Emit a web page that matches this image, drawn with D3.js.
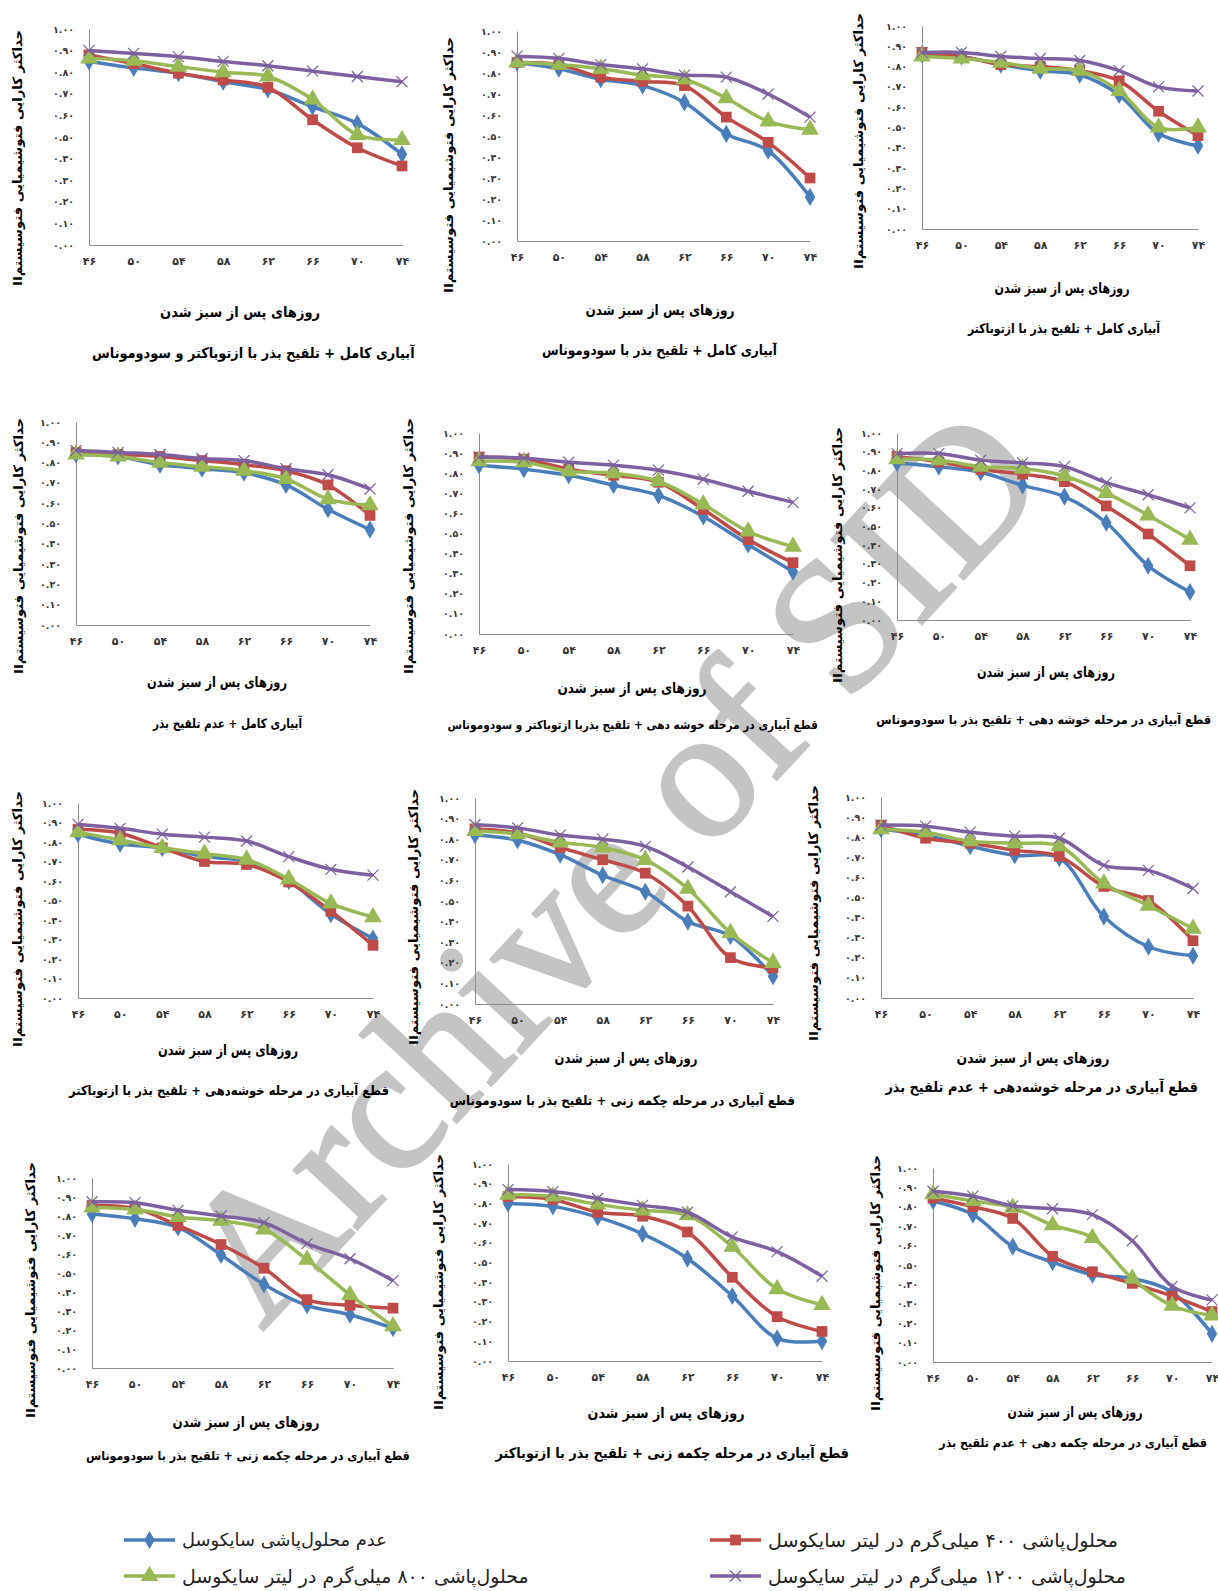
<!DOCTYPE html>
<html>
<head>
<meta charset="utf-8">
<script src="https://cdn.jsdelivr.net/npm/d3@7"></script>
<style>
  body { margin: 0; background: #fff; }
  text { font-family: "DejaVu Sans", sans-serif; }
  .fa { font-family: "DejaVu Sans Condensed", "DejaVu Sans", sans-serif; font-weight: bold; }
</style>
</head>
<body>
<div id="chart"></div>
<script>
// days after emergence (x categories)
const days = [46, 50, 54, 58, 62, 66, 70, 74];
const yTicks = [0, 0.1, 0.2, 0.3, 0.4, 0.5, 0.6, 0.7, 0.8, 0.9, 1.0];

// legend labels (series order: none, 400, 800, 1200 mg/l cycocel)
const seriesNames = [
  "عدم محلول‌پاشی سایکوسل",
  "محلول‌پاشی ۴۰۰ میلی‌گرم در لیتر سایکوسل",
  "محلول‌پاشی ۸۰۰ میلی‌گرم در لیتر سایکوسل",
  "محلول‌پاشی ۱۲۰۰ میلی‌گرم در لیتر سایکوسل"
];

// Fv/Fm values per panel, rows = series
const fullAzoPseudo = [
  [0.85, 0.82, 0.795, 0.756, 0.72, 0.64, 0.563, 0.42],
  [0.88, 0.84, 0.795, 0.764, 0.73, 0.58, 0.45, 0.366],
  [0.864, 0.853, 0.826, 0.80, 0.78, 0.674, 0.51, 0.486],
  [0.90, 0.887, 0.872, 0.85, 0.83, 0.805, 0.78, 0.756]
];
const fullPseudo = [
  [0.85, 0.82, 0.77, 0.74, 0.66, 0.51, 0.43, 0.21],
  [0.85, 0.84, 0.78, 0.76, 0.74, 0.59, 0.47, 0.30],
  [0.85, 0.84, 0.82, 0.79, 0.77, 0.68, 0.57, 0.53],
  [0.88, 0.87, 0.84, 0.82, 0.79, 0.78, 0.70, 0.59]
];
const fullAzo = [
  [0.86, 0.85, 0.81, 0.78, 0.76, 0.66, 0.47, 0.41],
  [0.87, 0.85, 0.81, 0.80, 0.78, 0.73, 0.58, 0.46],
  [0.85, 0.84, 0.82, 0.79, 0.78, 0.68, 0.50, 0.50],
  [0.87, 0.87, 0.85, 0.84, 0.83, 0.78, 0.70, 0.68]
];
const fullNone = [
  [0.84, 0.83, 0.79, 0.77, 0.75, 0.69, 0.57, 0.47],
  [0.85, 0.84, 0.83, 0.81, 0.79, 0.76, 0.69, 0.54],
  [0.84, 0.83, 0.80, 0.78, 0.76, 0.72, 0.62, 0.59],
  [0.86, 0.85, 0.84, 0.82, 0.81, 0.77, 0.74, 0.67]
];
const earAzoPseudo = [
  [0.84, 0.82, 0.79, 0.74, 0.69, 0.585, 0.445, 0.31],
  [0.88, 0.87, 0.82, 0.79, 0.755, 0.62, 0.47, 0.355],
  [0.86, 0.855, 0.81, 0.80, 0.76, 0.645, 0.51, 0.435],
  [0.88, 0.875, 0.855, 0.84, 0.815, 0.77, 0.71, 0.655]
];
const earPseudo = [
  [0.84, 0.82, 0.79, 0.72, 0.66, 0.52, 0.29, 0.15],
  [0.875, 0.845, 0.805, 0.78, 0.74, 0.61, 0.46, 0.29],
  [0.86, 0.855, 0.82, 0.81, 0.77, 0.68, 0.56, 0.43],
  [0.89, 0.89, 0.855, 0.84, 0.82, 0.735, 0.67, 0.60]
];
const earAzo = [
  [0.84, 0.79, 0.77, 0.725, 0.70, 0.60, 0.43, 0.305],
  [0.865, 0.845, 0.77, 0.70, 0.685, 0.595, 0.445, 0.27],
  [0.85, 0.81, 0.77, 0.74, 0.71, 0.61, 0.485, 0.415],
  [0.89, 0.87, 0.84, 0.825, 0.805, 0.725, 0.66, 0.63]
];
const bootPseudoA = [
  [0.82, 0.795, 0.725, 0.625, 0.545, 0.40, 0.33, 0.135],
  [0.85, 0.83, 0.76, 0.70, 0.635, 0.475, 0.225, 0.175],
  [0.84, 0.825, 0.785, 0.76, 0.70, 0.56, 0.345, 0.20],
  [0.87, 0.855, 0.82, 0.80, 0.765, 0.665, 0.545, 0.425]
];
const earNone = [
  [0.84, 0.81, 0.755, 0.71, 0.695, 0.405, 0.255, 0.21],
  [0.86, 0.795, 0.77, 0.735, 0.705, 0.555, 0.485, 0.285],
  [0.84, 0.825, 0.78, 0.77, 0.755, 0.57, 0.46, 0.345],
  [0.86, 0.855, 0.825, 0.805, 0.795, 0.66, 0.635, 0.545]
];
const bootPseudoB = [
  [0.81, 0.785, 0.74, 0.595, 0.44, 0.33, 0.28, 0.21],
  [0.855, 0.84, 0.75, 0.65, 0.525, 0.36, 0.33, 0.315],
  [0.845, 0.835, 0.795, 0.775, 0.73, 0.57, 0.385, 0.22],
  [0.875, 0.87, 0.83, 0.80, 0.765, 0.655, 0.575, 0.46]
];
const bootAzo = [
  [0.80, 0.785, 0.73, 0.645, 0.52, 0.33, 0.115, 0.10],
  [0.835, 0.82, 0.755, 0.735, 0.655, 0.425, 0.225, 0.15],
  [0.845, 0.835, 0.795, 0.765, 0.74, 0.58, 0.365, 0.285],
  [0.87, 0.86, 0.825, 0.79, 0.755, 0.63, 0.555, 0.43]
];
const bootNone = [
  [0.83, 0.76, 0.595, 0.515, 0.45, 0.43, 0.36, 0.145],
  [0.845, 0.80, 0.74, 0.545, 0.465, 0.405, 0.34, 0.26],
  [0.865, 0.83, 0.795, 0.705, 0.64, 0.43, 0.29, 0.24],
  [0.88, 0.855, 0.805, 0.79, 0.76, 0.625, 0.39, 0.32]
];

const panelTitles = [
  "آبیاری کامل + تلقیح بذر با ازتوباکتر و سودوموناس",
  "آبیاری کامل + تلقیح بذر با سودوموناس",
  "آبیاری کامل + تلقیح بذر با ازتوباکتر",
  "آبیاری کامل + عدم تلقیح بذر",
  "قطع آبیاری در مرحله خوشه دهی + تلقیح بذربا ازتوباکتر و سودوموناس",
  "قطع آبیاری در مرحله خوشه دهی + تلقیح بذر با سودوموناس",
  "قطع آبیاری در مرحله خوشه‌دهی + تلقیح بذر با ازتوباکتر",
  "قطع آبیاری در مرحله چکمه زنی + تلقیح بذر با سودوموناس",
  "قطع آبیاری در مرحله خوشه‌دهی + عدم تلقیح بذر",
  "قطع آبیاری در مرحله چکمه زنی + تلقیح بذر با سودوموناس",
  "قطع آبیاری در مرحله چکمه زنی + تلقیح بذر با ازتوباکتر",
  "قطع آبیاری در مرحله چکمه دهی + عدم تلقیح بذر"
];
const panelData = [fullAzoPseudo, fullPseudo, fullAzo, fullNone, earAzoPseudo, earPseudo,
                   earAzo, bootPseudoA, earNone, bootPseudoB, bootAzo, bootNone];
const xTitle = "روزهای پس از سبز شدن";
const yTitle = "حداکثر  کارایی فتوشیمیایی  فتوسیستمII";

// panel geometry (pixels)
const layout = [
  {x0: 89, x1: 402, top: 29, bot: 245, xlx: 240, xly: 312, xlw: 160, tr: 415, ty: 353, tw: 323, ts: 16, ytx: 17, yty: 158},
  {x0: 517, x1: 810, top: 31, bot: 241, xlx: 660, xly: 310, xlw: 149, tr: 777, ty: 350, tw: 235, ts: 16, ytx: 448, yty: 165},
  {x0: 922, x1: 1198, top: 26, bot: 229, xlx: 1062, xly: 288, xlw: 135, tr: 1160, ty: 328, tw: 192, ts: 15, ytx: 858, yty: 141},
  {x0: 76, x1: 370, top: 422, bot: 625, xlx: 217, xly: 682, xlw: 140, tr: 302, ty: 723, tw: 149, ts: 15, ytx: 18, yty: 546},
  {x0: 479, x1: 793, top: 433, bot: 634, xlx: 632, xly: 688, xlw: 149, tr: 818, ty: 725, tw: 371, ts: 13, ytx: 408, yty: 546},
  {x0: 897, x1: 1190, top: 433, bot: 620, xlx: 1046, xly: 672, xlw: 138, tr: 1211, ty: 720, tw: 335, ts: 15, ytx: 837, yty: 555},
  {x0: 78, x1: 373, top: 803, bot: 998, xlx: 228, xly: 1050, xlw: 140, tr: 389, ty: 1090, tw: 320, ts: 15, ytx: 17, yty: 919},
  {x0: 475, x1: 773, top: 798, bot: 1004, xlx: 626, xly: 1058, xlw: 143, tr: 795, ty: 1100, tw: 345, ts: 15, ytx: 413, yty: 917},
  {x0: 881, x1: 1193, top: 797, bot: 998, xlx: 1033, xly: 1058, xlw: 153, tr: 1198, ty: 1087, tw: 313, ts: 15, ytx: 813, yty: 913},
  {x0: 92, x1: 393, top: 1178, bot: 1368, xlx: 246, xly: 1422, xlw: 147, tr: 410, ty: 1456, tw: 324, ts: 13, ytx: 30, yty: 1290},
  {x0: 508, x1: 822, top: 1164, bot: 1361, xlx: 666, xly: 1413, xlw: 157, tr: 849, ty: 1453, tw: 354, ts: 15, ytx: 438, yty: 1282},
  {x0: 933, x1: 1212, top: 1168, bot: 1362, xlx: 1075, xly: 1412, xlw: 135, tr: 1207, ty: 1443, tw: 268, ts: 14, ytx: 875, yty: 1283}
];

const colors = ["#4a7ebb", "#be4b48", "#98b954", "#7d60a0"];
const symbols = [d3.symbolDiamond, d3.symbolSquare, d3.symbolTriangle, null];
const symbolSizes = [95, 115, 135, 0];

const fa = s => String(s).replace(/[0-9]/g, c => "۰۱۲۳۴۵۶۷۸۹"[+c]);

// fit a text into a target width: shrink the font a little, squeeze or stretch the rest
function fit(sel, target, size, minScale) {
  sel.style("font-size", size + "px");
  let w = sel.node().getComputedTextLength();
  if (w > target) {
    const s = Math.max(target / w, minScale);
    sel.style("font-size", (size * s) + "px");
    w = sel.node().getComputedTextLength();
  }
  if (Math.abs(w - target) > 1) {
    sel.attr("textLength", target).attr("lengthAdjust", "spacingAndGlyphs");
  }
}

const svg = d3.select("#chart").append("svg")
  .attr("width", 1218)
  .attr("height", 1591);

svg.append("rect").attr("width", 1218).attr("height", 1591).attr("fill", "#fff");

// watermark behind everything
svg.append("text")
  .attr("transform", "translate(612,865) rotate(-47)")
  .attr("text-anchor", "middle")
  .attr("dy", "0.33em")
  .style("font-family", "'Liberation Serif', serif")
  .style("font-size", "188px")
  .attr("fill", "#c4c4c4")
  .attr("stroke", "#c4c4c4")
  .attr("stroke-width", 3)
  .text("Archive of SID");

function drawMarker(g, i, cx, cy) {
  if (symbols[i]) {
    g.append("path")
      .attr("transform", "translate(" + cx + "," + cy + ")")
      .attr("d", d3.symbol().type(symbols[i]).size(symbolSizes[i])())
      .attr("fill", colors[i]);
  } else {
    const r = 5.5;
    g.append("path")
      .attr("d", "M" + (cx - r) + "," + (cy - r) + "L" + (cx + r) + "," + (cy + r) +
                 "M" + (cx - r) + "," + (cy + r) + "L" + (cx + r) + "," + (cy - r))
      .attr("stroke", colors[i])
      .attr("stroke-width", 1.2)
      .attr("fill", "none");
  }
}

layout.forEach(function (L, p) {
  const g = svg.append("g");

  const x = d3.scalePoint().domain(days).range([L.x0, L.x1]).padding(0);
  const y = d3.scaleLinear().domain([0, 1]).range([L.bot, L.top]);

  // y axis
  const yAxis = g.append("g")
    .attr("transform", "translate(" + L.x0 + ",0)")
    .call(d3.axisLeft(y).tickValues(yTicks).tickSize(0).tickPadding(15)
      .tickFormat(d => fa(d.toFixed(2))));
  yAxis.select(".domain").attr("stroke", "#8c8c8c");
  yAxis.selectAll("text")
    .style("font-size", "9.5px").style("font-weight", "bold").attr("fill", "#333");

  // x axis
  const xAxis = g.append("g")
    .attr("transform", "translate(0," + L.bot + ")")
    .call(d3.axisBottom(x).tickSize(0).tickPadding(12).tickFormat(d => fa(d)));
  xAxis.select(".domain").attr("stroke", "#8c8c8c");
  xAxis.selectAll("text")
    .style("font-size", "11px").style("font-weight", "bold").attr("fill", "#333");

  // lines and markers
  const line = d3.line()
    .x((d, k) => x(days[k]))
    .y(d => y(d))
    .curve(d3.curveCatmullRom.alpha(0.5));

  panelData[p].forEach(function (vals, i) {
    g.append("path")
      .attr("d", line(vals))
      .attr("fill", "none")
      .attr("stroke", colors[i])
      .attr("stroke-width", 3.5)
      .attr("stroke-linejoin", "round");
    vals.forEach((v, k) => drawMarker(g, i, x(days[k]), y(v)));
  });

  // x axis title
  const xl = g.append("text")
    .attr("class", "fa")
    .attr("x", L.xlx)
    .attr("y", L.xly)
    .attr("dy", "0.35em")
    .attr("text-anchor", "middle")
    .text(xTitle);
  fit(xl, L.xlw, 17, 0.85);

  // panel title, anchored on the side that keeps it inside the page
  const rightSide = L.tr > 609;
  const tt = g.append("text")
    .attr("class", "fa")
    .attr("x", rightSide ? L.tr : L.tr - L.tw)
    .attr("y", L.ty)
    .attr("dy", "0.35em")
    .attr("text-anchor", rightSide ? "end" : "start")
    .text(panelTitles[p]);
  fit(tt, L.tw, L.ts + 1, L.tr > 1200 ? 0 : 0.82);

  // y axis title (rtl so that "II" ends up at the bottom)
  const yt = g.append("text")
    .attr("class", "fa")
    .attr("transform", "translate(" + L.ytx + "," + L.yty + ") rotate(-90)")
    .attr("direction", "rtl")
    .attr("text-anchor", "middle")
    .attr("dy", "0.35em")
    .text(yTitle);
  fit(yt, 256, 13, 0.85);
});

// legend
const legendPos = [
  {lx: 124, ty: 1540},
  {lx: 710, ty: 1540},
  {lx: 124, ty: 1576},
  {lx: 710, ty: 1576}
];
const legendW = [205, 350, 347, 358];
const lg = svg.append("g");
seriesNames.forEach(function (name, i) {
  const P = legendPos[i];
  lg.append("line")
    .attr("x1", P.lx).attr("x2", P.lx + 51)
    .attr("y1", P.ty).attr("y2", P.ty)
    .attr("stroke", colors[i]).attr("stroke-width", 3.5);
  drawMarker(lg, i, P.lx + 25.5, P.ty);
  const t = lg.append("text")
    .attr("x", P.lx + 58)
    .attr("y", P.ty)
    .attr("dy", "0.35em")
    .attr("fill", "#222")
    .text(name);
  fit(t, legendW[i], 19, 0.9);
});
</script>
</body>
</html>
